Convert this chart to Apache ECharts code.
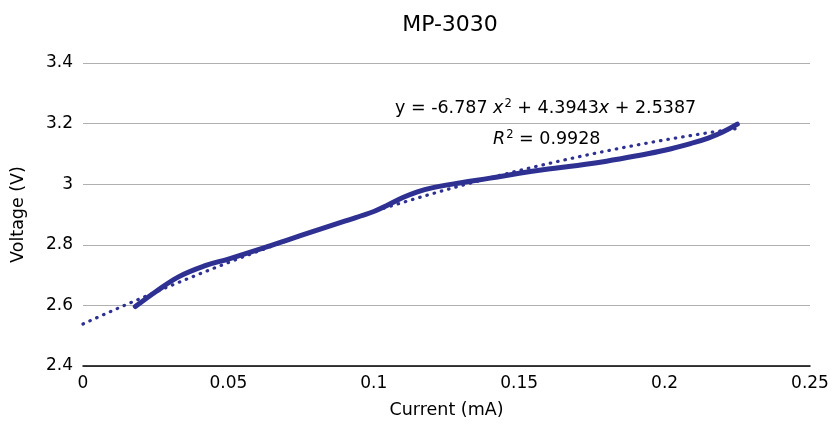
<!DOCTYPE html>
<html>
<head>
<meta charset="utf-8">
<script src="https://cdn.jsdelivr.net/npm/echarts@6/dist/echarts.min.js"></script>
<style>
  html, body { margin: 0; padding: 0; background: #fff; }
  #chart { width: 833px; height: 424px; }
</style>
</head>
<body>
<div id="chart"></div>
<script>
// Measured current (mA) and voltage (V) for the MP-3030
const currentMA = [0.018, 0.025, 0.033, 0.042, 0.05, 0.06, 0.07, 0.08, 0.09, 0.1,
                   0.105, 0.11, 0.115, 0.12, 0.13, 0.14, 0.15, 0.16, 0.17, 0.18,
                   0.19, 0.2, 0.21, 0.215, 0.22, 0.225];
const voltageV  = [2.596, 2.645, 2.695, 2.731, 2.753, 2.783, 2.815, 2.847, 2.878, 2.91,
                   2.932, 2.956, 2.975, 2.988, 3.005, 3.02, 3.036, 3.05, 3.062, 3.076,
                   3.093, 3.112, 3.137, 3.152, 3.172, 3.198];

// Polynomial trendline coefficients (order 2) and fit quality
const trendCoef = { a: -6.787, b: 4.3943, c: 2.5387 };
const rSquared = 0.9928;

const xTicks = [0, 0.05, 0.1, 0.15, 0.2, 0.25];
const yTicks = [2.4, 2.6, 2.8, 3, 3.2, 3.4];

const measured = currentMA.map((x, i) => [x, voltageV[i]]);

// Trendline evaluated from its own equation over 0 .. last measured current
const trend = [];
const xEnd = currentMA[currentMA.length - 1];
for (let k = 0; k <= 90; k++) {
  const x = xEnd * k / 90;
  trend.push([x, trendCoef.a * x * x + trendCoef.b * x + trendCoef.c]);
}

const INK = '#2e3192';
const FONT = '"DejaVu Sans", "Liberation Sans", Arial, sans-serif';

const chart = echarts.init(document.getElementById('chart'), null, { renderer: 'canvas' });
chart.setOption({
  animation: false,
  backgroundColor: '#fff',
  textStyle: { fontFamily: FONT },
  title: {
    text: 'MP-3030',
    left: 445, top: 9, textAlign: 'center',
    textStyle: { fontFamily: FONT, fontSize: 22, fontWeight: 'normal', color: '#000' }
  },
  grid: { left: 83, right: 23, top: 63, bottom: 58 },
  xAxis: {
    type: 'value',
    min: xTicks[0], max: xTicks[xTicks.length - 1], interval: 0.05,
    name: 'Current (mA)', nameLocation: 'middle', nameGap: 35,
    nameTextStyle: { fontFamily: FONT, fontSize: 17.5, color: '#000' },
    axisLine: { show: true, lineStyle: { color: '#000', width: 1.5 } },
    axisTick: { show: false },
    splitLine: { show: false },
    axisLabel: {
      fontFamily: FONT, fontSize: 17, color: '#000', margin: 9,
      formatter: v => xTicks.includes(+v.toFixed(2)) ? String(+v.toFixed(2)) : ''
    }
  },
  yAxis: {
    type: 'value',
    min: yTicks[0], max: yTicks[yTicks.length - 1], interval: 0.2,
    name: 'Voltage (V)', nameLocation: 'middle', nameGap: 56, nameRotate: 90,
    nameTextStyle: { fontFamily: FONT, fontSize: 17.5, color: '#000' },
    axisLine: { show: false },
    axisTick: { show: false },
    splitLine: { show: true, lineStyle: { color: '#b0b0b0', width: 1.2 } },
    axisLabel: {
      fontFamily: FONT, fontSize: 17, color: '#000', margin: 10,
      formatter: v => String(+v.toFixed(1))
    }
  },
  series: [
    {
      name: 'Polynomial fit',
      type: 'line',
      data: trend,
      showSymbol: false,
      smooth: false,
      lineStyle: { color: INK, width: 3.2, type: [0.5, 7], cap: 'round' },
      z: 2
    },
    {
      name: 'MP-3030',
      type: 'line',
      data: measured,
      showSymbol: false,
      smooth: 0.4,
      lineStyle: { color: INK, width: 5, cap: 'round', join: 'round' },
      z: 3
    }
  ],
  graphic: [
    {
      type: 'text',
      left: 395, top: 98,
      style: {
        text: '{n|y = -6.787 }{i|x}{s|2}{n| + 4.3943}{i|x}{n| + 2.5387}',
        rich: {
          n: { fontFamily: FONT, fontSize: 17.5, fill: '#000' },
          i: { fontFamily: FONT, fontSize: 17.5, fontStyle: 'italic', fill: '#000' },
          s: { fontFamily: FONT, fontSize: 11.5, fill: '#000', verticalAlign: 'top', padding: [0, 0, 8, 1] }
        }
      }
    },
    {
      type: 'text',
      left: 493, top: 129,
      style: {
        text: '{i|R}{s|2}{n| = ' + rSquared + '}',
        rich: {
          n: { fontFamily: FONT, fontSize: 17.5, fill: '#000' },
          i: { fontFamily: FONT, fontSize: 17.5, fontStyle: 'italic', fill: '#000' },
          s: { fontFamily: FONT, fontSize: 11.5, fill: '#000', verticalAlign: 'top', padding: [0, 0, 8, 1] }
        }
      }
    }
  ]
});
</script>
</body>
</html>
